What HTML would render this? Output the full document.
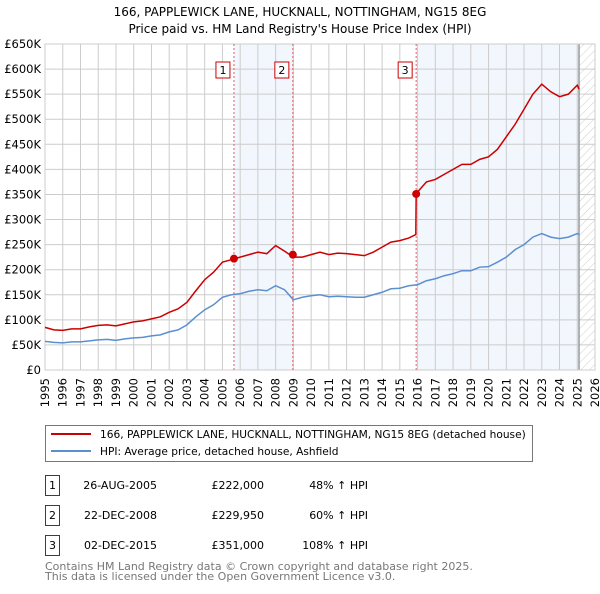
<!DOCTYPE html>
<html><head><meta charset="utf-8">
<style>
body{margin:0;background:#fff;font-family:"DejaVu Sans","Liberation Sans",sans-serif;}
svg text{font-family:"DejaVu Sans","Liberation Sans",sans-serif;}
</style></head>
<body>
<svg id="chart" width="600" height="590">
<defs>
<pattern id="hatch" width="6" height="6" patternUnits="userSpaceOnUse" patternTransform="rotate(45)">
<line x1="0" y1="0" x2="0" y2="6" stroke="#ccc" stroke-width="1"/>
</pattern>
</defs>
<text x="300" y="16" text-anchor="middle" font-size="12">166, PAPPLEWICK LANE, HUCKNALL, NOTTINGHAM, NG15 8EG</text>
<text x="300" y="33" text-anchor="middle" font-size="12">Price paid vs. HM Land Registry's House Price Index (HPI)</text>
<g id="plot"></g>
<g>
<rect x="45.5" y="425.5" width="487" height="36" fill="#fff" stroke="#777"/>
<line x1="51" y1="434" x2="91" y2="434" stroke="#cc0000" stroke-width="2"/>
<text x="100" y="438" font-size="10.6">166, PAPPLEWICK LANE, HUCKNALL, NOTTINGHAM, NG15 8EG (detached house)</text>
<line x1="51" y1="451" x2="91" y2="451" stroke="#5b8fd0" stroke-width="2"/>
<text x="100" y="455" font-size="10.6">HPI: Average price, detached house, Ashfield</text>
</g>
<g id="table" font-size="11"></g>
<text x="45" y="570" font-size="11" fill="#777">Contains HM Land Registry data © Crown copyright and database right 2025.</text>
<text x="45" y="580" font-size="11" fill="#777">This data is licensed under the Open Government Licence v3.0.</text>
</svg>
<script>
const hpiYears=[1995,1995.5,1996,1996.5,1997,1997.5,1998,1998.5,1999,1999.5,2000,2000.5,2001,2001.5,2002,2002.5,2003,2003.5,2004,2004.5,2005,2005.5,2006,2006.5,2007,2007.5,2008,2008.5,2009,2009.5,2010,2010.5,2011,2011.5,2012,2012.5,2013,2013.5,2014,2014.5,2015,2015.5,2016,2016.5,2017,2017.5,2018,2018.5,2019,2019.5,2020,2020.5,2021,2021.5,2022,2022.5,2023,2023.5,2024,2024.5,2025,2025.1];
const hpiValues=[57,55,54,56,56,58,60,61,59,62,64,65,68,70,76,80,90,106,120,130,145,150,152,157,160,158,168,160,140,145,148,150,146,147,146,145,145,150,155,162,163,168,170,178,182,188,192,198,198,205,206,215,225,240,250,265,272,265,262,265,272,270];
const priceYears=[1995,1995.5,1996,1996.5,1997,1997.5,1998,1998.5,1999,1999.5,2000,2000.5,2001,2001.5,2002,2002.5,2003,2003.5,2004,2004.5,2005,2005.5,2006,2006.5,2007,2007.5,2008,2008.5,2009,2009.5,2010,2010.5,2011,2011.5,2012,2012.5,2013,2013.5,2014,2014.5,2015,2015.5,2015.9,2015.92,2016,2016.5,2017,2017.5,2018,2018.5,2019,2019.5,2020,2020.5,2021,2021.5,2022,2022.5,2023,2023.5,2024,2024.5,2025,2025.1];
const priceValues=[85,80,79,82,82,86,89,90,88,92,96,98,102,106,115,122,135,158,180,195,215,220,225,230,235,232,248,237,225,225,230,235,230,233,232,230,228,235,245,255,258,263,270,351,355,375,380,390,400,410,410,420,425,440,465,490,520,550,570,555,545,550,568,560];
const saleYears=[2005.65,2008.97,2015.92];
const saleValues=[222,229.95,351];
const saleLabels=["1","2","3"];
const saleDates=["26-AUG-2005","22-DEC-2008","02-DEC-2015"];
const salePrices=["£222,000","£229,950","£351,000"];
const saleHpi=["48% ↑ HPI","60% ↑ HPI","108% ↑ HPI"];
const yTicks=[0,50,100,150,200,250,300,350,400,450,500,550,600,650];
const yTickLabels=["£0","£50K","£100K","£150K","£200K","£250K","£300K","£350K","£400K","£450K","£500K","£550K","£600K","£650K"];
const xTicks=[1995,1996,1997,1998,1999,2000,2001,2002,2003,2004,2005,2006,2007,2008,2009,2010,2011,2012,2013,2014,2015,2016,2017,2018,2019,2020,2021,2022,2023,2024,2025,2026];

const X0=45,X1=595,Y0=370,Y1=44;
const xs=y=>X0+(y-1995)*(X1-X0)/31;
const ys=v=>Y0-v*(Y0-Y1)/650;
const NS="http://www.w3.org/2000/svg";
const plot=document.getElementById('plot');
function mk(tag,attrs,parent){const e=document.createElementNS(NS,tag);for(const k in attrs)e.setAttribute(k,attrs[k]);(parent||plot).appendChild(e);return e;}

mk('rect',{x:X0,y:Y1,width:X1-X0,height:Y0-Y1,fill:'#fff'});
let r=mk('rect',{x:xs(saleYears[0]),y:Y1,width:xs(saleYears[1])-xs(saleYears[0]),height:Y0-Y1,fill:'#f2f6fd'});


r=mk('rect',{x:xs(saleYears[2]),y:Y1,width:xs(2025.1)-xs(saleYears[2]),height:Y0-Y1,fill:'#f2f6fd'});


r=mk('rect',{x:xs(2025.1),y:Y1,width:X1-xs(2025.1),height:Y0-Y1,fill:'url(#hatch)'});



yTicks.forEach((t,i)=>{
 mk('line',{x1:X0,x2:X1,y1:ys(t),y2:ys(t),stroke:'#ccc','stroke-width':1});
 const tx=mk('text',{x:X0-4,y:ys(t)+4,'text-anchor':'end','font-size':11.5});
 tx.textContent=yTickLabels[i];
 
 
});
xTicks.forEach(t=>{
 mk('line',{x1:xs(t),x2:xs(t),y1:Y1,y2:Y0,stroke:'#ccc','stroke-width':1});
 const tx=mk('text',{x:xs(t)+4,y:Y0+8,'text-anchor':'end','font-size':11.5,transform:`rotate(-90 ${xs(t)+4} ${Y0+8})`});
 tx.textContent=t;
 
 
});
mk('line',{x1:xs(2025.1),x2:xs(2025.1),y1:Y1,y2:Y0,stroke:'#999','stroke-width':1.5});
mk('rect',{x:X0,y:Y1,width:X1-X0,height:Y0-Y1,fill:'none',stroke:'#ccc'});

saleYears.forEach((y,i)=>{
 mk('line',{x1:xs(y),x2:xs(y),y1:Y1,y2:Y0,stroke:'#e06060','stroke-dasharray':'2,2','stroke-width':1});
});

let p=mk('polyline',{points:hpiYears.map((y,i)=>xs(y)+','+ys(hpiValues[i])).join(' '),fill:'none',stroke:'#5b8fd0','stroke-width':1.5});


p=mk('polyline',{points:priceYears.map((y,i)=>xs(y)+','+ys(priceValues[i])).join(' '),fill:'none',stroke:'#cc0000','stroke-width':1.5});



saleYears.forEach((y,i)=>{
 const c=mk('circle',{cx:xs(y),cy:ys(saleValues[i]),r:4,fill:'#cc0000'});
 
 
 const g=mk('g',{});
 
 
 mk('rect',{x:xs(y)-18,y:62,width:14,height:16,fill:'#fff',stroke:'#cc0000'},g);
 const t=mk('text',{x:xs(y)-11,y:74,'text-anchor':'middle','font-size':11},g);
 t.textContent=saleLabels[i];
});

const tb=document.getElementById('table');
saleLabels.forEach((l,i)=>{
 const yy=475+i*30;
 const row=mk('g',{},tb);
 
 
 mk('rect',{x:45.5,y:yy+0.5,width:14,height:20,fill:'#fff',stroke:'#cc0000'},row);
 let t=mk('text',{x:52.5,y:yy+14,'text-anchor':'middle',fill:'#000'},row);t.textContent=l;
 t=mk('text',{x:157,y:yy+14,'text-anchor':'end',fill:'#000'},row);t.textContent=saleDates[i];
 t=mk('text',{x:264,y:yy+14,'text-anchor':'end',fill:'#000'},row);t.textContent=salePrices[i];
 t=mk('text',{x:368,y:yy+14,'text-anchor':'end',fill:'#000'},row);t.textContent=saleHpi[i];
});
</script>
</body></html>
